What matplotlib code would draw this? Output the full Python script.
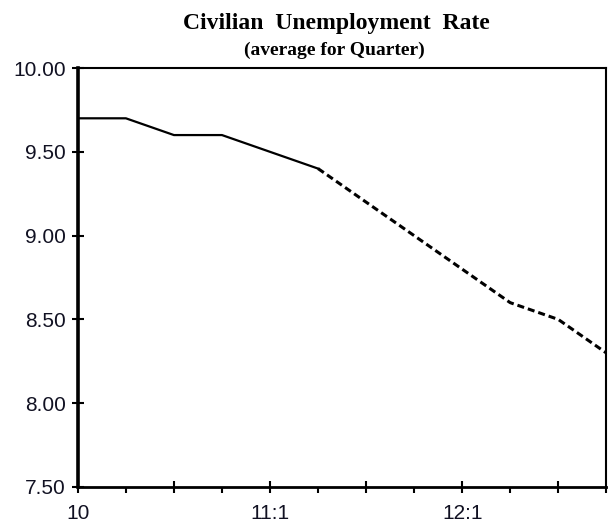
import numpy as np
import matplotlib
matplotlib.use("Agg")
import matplotlib.pyplot as plt

# quarterly values, 10:1 .. 12:4
quarters = ["10:1", "10:2", "10:3", "10:4", "11:1", "11:2",
            "11:3", "11:4", "12:1", "12:2", "12:3", "12:4"]
rate = [9.7, 9.7, 9.6, 9.6, 9.5, 9.4, 9.2, 9.0, 8.8, 8.6, 8.5, 8.3]
n_actual = 6  # last actual quarter is 11:2, rest is forecast
tick_labels = {0: "10", 4: "11:1", 8: "12:1"}
y_ticks = [7.5, 8.0, 8.5, 9.0, 9.5, 10.0]

fig = plt.figure(figsize=(6.13, 5.29), dpi=100)
ax = fig.add_axes([0.127, 0.0794, 0.862, 0.792])

x = np.arange(len(quarters))
ax.plot(x[:n_actual], rate[:n_actual], color="black", lw=1.6)
ax.plot(x[n_actual - 1:], rate[n_actual - 1:], color="black", lw=2.2,
        dashes=(2.3, 1.3))

ax.set_xlim(0, len(quarters) - 1)
ax.set_ylim(7.5, 10.0)

ax.set_yticks(y_ticks)
ax.set_yticklabels(["%.2f" % v for v in y_ticks])
ax.set_xticks([i for i in x if i % 2 == 0])
ax.set_xticklabels([tick_labels.get(i, "") for i in x if i % 2 == 0])
ax.set_xticks([i for i in x if i % 2 == 1], minor=True)

ax.tick_params(axis="both", which="major", direction="inout", length=9,
               width=1.5, color="black", labelsize=15)
ax.tick_params(axis="x", which="major", pad=8)
ax.tick_params(axis="y", which="major", pad=4)
ax.tick_params(axis="x", which="minor", direction="out", length=4.5,
               width=1.5, color="black")
for lab in ax.get_xticklabels() + ax.get_yticklabels():
    lab.set_fontfamily("Liberation Sans")
    lab.set_color("#111122")

ax.spines["left"].set_linewidth(2.6)
ax.spines["bottom"].set_linewidth(2.0)
ax.spines["top"].set_linewidth(1.5)
ax.spines["right"].set_linewidth(1.5)

fig.text(0.549, 0.955, "Civilian  Unemployment  Rate", ha="center", va="center",
         fontfamily="Liberation Serif", fontweight="bold", fontsize=17)
fig.text(0.546, 0.904, "(average for Quarter)", ha="center", va="center",
         fontfamily="Liberation Serif", fontweight="bold", fontsize=14)

fig.savefig("out.png", dpi=100)
